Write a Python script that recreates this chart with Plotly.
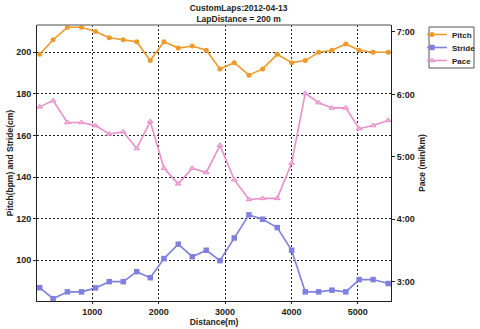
import plotly.graph_objects as go

distance_m = [208, 410, 625, 838, 1048, 1256, 1467, 1669, 1873, 2080, 2295, 2506, 2717,
              2923, 3139, 3360, 3566, 3786, 4003, 4208, 4410, 4610, 4819, 5020, 5230, 5458]
pitch_bpm = [199, 206, 212, 212, 210, 207, 206, 205, 196, 205, 202, 203, 201,
             192, 195, 189, 192, 199, 195, 196, 200, 201, 204, 201, 200, 200]
stride_cm = [86.8, 81.5, 84.8, 84.8, 86.7, 89.7, 89.7, 94.5, 91.6, 100.8, 107.7, 101.7, 104.8,
             99.8, 110.7, 121.8, 119.7, 115.7, 104.8, 84.8, 84.8, 85.6, 84.8, 90.7, 90.7, 88.8]
pace_sec = [348, 354, 333, 333, 330, 322, 324, 308, 334, 289, 274, 289, 285,
            311, 278, 259, 260, 260, 294, 361, 352, 347, 347, 327, 330, 335]

x_ticks = [1000, 2000, 3000, 4000, 5000]
left_ticks = [100, 120, 140, 160, 180, 200]
pace_tickvals = [180, 240, 300, 360, 420]
pace_ticktext = ["3:00", "4:00", "5:00", "6:00", "7:00"]

FONT = "Liberation Sans"
INK = "#222"
W, H = 480, 329
ML, MR, MT, MB = 37, 89, 25, 28
tick_font = dict(family=FONT, size=9, color=INK, weight="bold")
title_font = dict(family=FONT, size=8.5, color=INK, weight="bold")
legend_font = dict(family=FONT, size=8, color=INK, weight="bold")

fig = go.Figure()
fig.add_trace(go.Scatter(x=distance_m, y=pitch_bpm, name="Pitch", mode="lines+markers",
                         legend="legend",
                         line=dict(color="#EE9A2A", width=1.6),
                         marker=dict(symbol="circle", size=5, color="#EE9A2A")))
fig.add_trace(go.Scatter(x=distance_m, y=stride_cm, name="Stride", mode="lines+markers",
                         legend="legend2",
                         line=dict(color="#8080E0", width=1.6),
                         marker=dict(symbol="square", size=5.5, color="#8080E0")))
fig.add_trace(go.Scatter(x=distance_m, y=pace_sec, name="Pace", mode="lines+markers",
                         yaxis="y2", legend="legend3",
                         line=dict(color="#E98FCB", width=1.6),
                         marker=dict(symbol="triangle-up", size=5, color="#F2B6DC",
                                     line=dict(color="#E98FCB", width=1))))


def leg(top_px):
    return dict(x=427 / W, y=1 - top_px / H, xref="container", yref="container",
                xanchor="left", yanchor="top", bgcolor="rgba(0,0,0,0)", borderwidth=0,
                font=legend_font, itemwidth=30, indentation=-15, tracegroupgap=0)


fig.update_layout(
    width=W, height=H,
    margin=dict(l=ML, r=MR, t=MT, b=MB, autoexpand=False),
    paper_bgcolor="white", plot_bgcolor="white",
    font=dict(family=FONT, size=9, color=INK),
    title=dict(text="CustomLaps:2012-04-13<br>LapDistance = 200 m",
               x=0.497, xanchor="center", y=1 - 10.5 / H, yanchor="middle",
               font=title_font),
    showlegend=True,
    legend=leg(20), legend2=leg(33), legend3=leg(46),
    xaxis=dict(range=[167, 5500], tickvals=x_ticks, tickfont=tick_font,
               showgrid=True, gridcolor=INK, griddash="2px,2px", gridwidth=1,
               showline=True, linecolor=INK, linewidth=1, zeroline=False,
               ticks="outside", ticklen=2, tickcolor=INK,
               title=dict(text="Distance(m)", font=title_font, standoff=1)),
    yaxis=dict(range=[80.4, 213.1], tickvals=left_ticks, tickfont=tick_font,
               showgrid=True, gridcolor=INK, griddash="2px,2px", gridwidth=1,
               showline=True, linecolor=INK, linewidth=1, zeroline=False,
               ticks="outside", ticklen=3, tickcolor=INK,
               title=dict(text="Pitch(bpm) and Stride(cm)", font=title_font, standoff=1)),
    yaxis2=dict(range=[161.4, 426.7], tickvals=pace_tickvals, ticktext=pace_ticktext,
                tickfont=tick_font, overlaying="y", side="right",
                showgrid=False, showline=True, linecolor=INK, linewidth=1, zeroline=False,
                ticks="outside", ticklen=3, tickcolor=INK,
                title=dict(text="Pace (min/km)", font=title_font, standoff=5)),
)
# top border of plot frame (gray)
fig.add_shape(type="line", xref="paper", yref="paper", x0=0, x1=1, y0=1, y1=1,
              line=dict(color="#888", width=1.5))
# legend frame
pw, ph = W - ML - MR, H - MT - MB
fig.add_shape(type="rect", xref="paper", yref="paper",
              x0=(429 - ML) / pw, x1=(474 - ML) / pw,
              y0=(H - MB - 68) / ph, y1=(H - MB - 27) / ph,
              line=dict(color="#555", width=1), fillcolor="white", layer="below")
fig.write_html("out.html")
